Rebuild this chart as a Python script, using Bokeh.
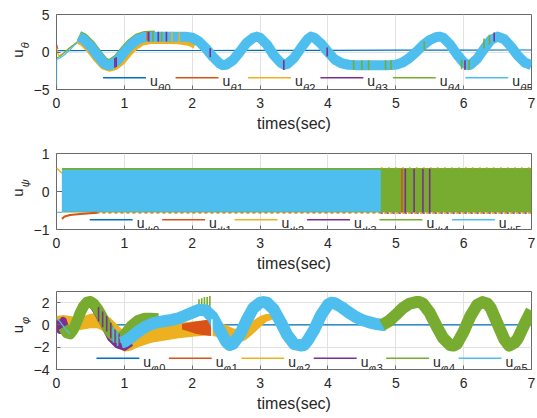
import numpy as np
from bokeh.plotting import figure
from bokeh.models import Label, FixedTicker, Range1d, ColumnDataSource, Div
from bokeh.layouts import column, row
from bokeh.embed import file_html
from bokeh.resources import INLINE

# ---------------- data ----------------
time_ticks = [0, 1, 2, 3, 4, 5, 6, 7]
theta_ticks = [-5, 0, 5]
psi_ticks = [-1, 0, 1]
phi_ticks = [-4, -2, 0, 2]
series_idx = ["0", "1", "2", "3", "4", "5"]

# ---- subplot 1 : u_theta ----
th0_t = [0, 1, 2, 3, 4, 5, 6, 7]
th0_y = [0.18, 0.2, 0.2, 0.21, 0.22, 0.24, 0.26, 0.27]
th1_t = [0.0, 0.02]
th1_y = [1.0, 0.4]
th2_pre_t = [0.0, 0.03, 0.1, 0.2, 0.33]
th2_pre_y = [0.6, -0.5, -0.2, 0.6, 1.4]
th4_pre_t = [0.0, 0.05, 0.1, 0.15, 0.2, 0.25, 0.3, 0.33]
th4_pre_y = [-0.8, -0.6, -0.2, 0.2, 0.6, 0.95, 1.3, 1.5]
th5_pre_t = [0.0, 0.002, 0.05, 0.1, 0.15, 0.2, 0.25, 0.3, 0.33]
th5_pre_y = [-4.8, -1.0, -0.8, -0.5, -0.1, 0.3, 0.8, 1.2, 1.45]
th2_t = [0.33, 0.4, 0.5, 0.6, 0.7, 0.78, 0.85, 0.95, 1.05, 1.15, 1.25, 1.4, 1.6, 1.8, 1.95, 2.05]
th2_y = [1.75, 1.4, 0.5, -0.7, -1.7, -1.95, -1.8, -1.1, 0.0, 0.9, 1.5, 1.75, 1.75, 1.7, 1.5, 1.1]
th4_t = [0.33, 0.4, 0.5, 0.6, 0.7, 0.76, 0.8, 0.9, 1.0, 1.1, 1.2, 1.3, 1.45]
th4_y = [2.15, 1.85, 0.95, -0.25, -1.35, -1.6, -1.55, -0.95, 0.15, 1.15, 1.85, 2.15, 2.2]
th5_t = [0.33, 0.4, 0.5, 0.6, 0.7, 0.76, 0.8, 0.9, 1.0, 1.1, 1.2, 1.3, 1.4, 1.5, 1.6, 1.7, 1.8, 1.9,
         2.0, 2.1, 2.2, 2.3, 2.4, 2.45, 2.5, 2.6, 2.7, 2.8, 2.9, 2.95, 3.0, 3.1, 3.2, 3.3, 3.36, 3.4,
         3.5, 3.6, 3.7, 3.75, 3.8, 3.9, 4.0, 4.1, 4.2, 4.3, 4.4, 4.5, 4.6, 4.7, 4.8, 4.9, 5.0, 5.1,
         5.2, 5.3, 5.4, 5.5, 5.6, 5.65, 5.7, 5.8, 5.9, 6.0, 6.07, 6.1, 6.2, 6.3, 6.4, 6.5, 6.6, 6.7,
         6.8, 6.9, 7.0]
th5_y = [2.0, 1.7, 0.8, -0.4, -1.5, -1.75, -1.7, -1.1, 0.0, 1.0, 1.7, 2.0, 2.05, 2.05, 2.05, 2.05, 2.05, 2.05,
         1.9, 1.4, 0.5, -0.6, -1.5, -1.75, -1.7, -1.1, 0.0, 1.2, 1.9, 2.05, 1.9, 1.0, -0.4, -1.4, -1.7, -1.6,
         -0.8, 0.5, 1.7, 2.05, 1.9, 1.1, 0.0, -1.0, -1.5, -1.7, -1.75, -1.75, -1.75, -1.75, -1.75, -1.75, -1.7, -1.4,
         -0.8, 0.0, 0.9, 1.6, 2.0, 2.05, 1.9, 1.0, -0.3, -1.4, -1.75, -1.7, -0.9, 0.4, 1.6, 2.05, 1.7, 0.7,
         -0.5, -1.4, -1.75]
# switching streaks: time, low, high, series index
th_st_t = [0.86, 0.88, 1.34, 1.36, 1.42, 1.5, 1.55, 1.62, 1.7, 1.81, 2.265, 3.35, 3.99, 4.38, 4.5,
           4.6, 4.85, 4.93, 5.42, 5.97, 6.02, 6.08, 6.3, 6.38, 6.45]
th_st_lo = [-2.1, -2.0, 1.5, 1.4, 1.4, 1.4, 1.4, 1.4, 1.4, 1.3, -0.7, -2.4, -0.6, -2.4, -2.4,
            -2.4, -2.4, -2.4, 0.2, -2.3, -2.4, -2.4, 0.5, 1.0, 1.4]
th_st_hi = [-0.8, -0.7, 2.7, 2.7, 2.7, 2.7, 2.7, 2.7, 2.7, 2.6, 0.5, -1.1, 0.6, -1.1, -1.1,
            -1.1, -1.1, -1.1, 1.4, -1.0, -1.1, -1.1, 1.8, 2.3, 2.6]
th_st_s = [3, 3, 1, 3, 4, 3, 4, 3, 2, 2, 3, 3, 3, 4, 4, 4, 4, 4, 4, 4, 3, 4, 4, 4, 3]

# ---- subplot 2 : u_psi ----
psi0_t = [0, 7]
psi0_y = [0, 0]
psi1_t = [0.08, 0.12, 0.2, 0.35, 0.5, 0.6]
psi1_y = [-0.72, -0.66, -0.62, -0.59, -0.57, -0.56]
psi2_t = [0.0, 0.04, 0.08]
psi2_y = [0.62, 0.55, 0.48]
psi4_t = [0.08, 7.0]
psi4_lo = [-0.55, -0.55]
psi4_hi = [0.62, 0.62]
psi5_pre_t = [0.0, 0.08]
psi5_pre_y = [-0.55, -0.55]
psi5_t = [0.08, 4.78]
psi5_lo = [-0.53, -0.53]
psi5_hi = [0.575, 0.575]
psi_st_t = [5.09, 5.14, 5.27, 5.4, 5.5]
psi_st_s = [1, 3, 3, 3, 3]
psi_edge1_t = [0.5, 7.0]
psi_edge1_y = [-0.565, -0.565]
psi_edge_t = [4.78, 7.0]
psi_edge_lo = [-0.57, -0.57]
psi_edge_hi = [0.625, 0.625]

# ---- subplot 3 : u_phi ----
phi0_t = [0, 7]
phi0_y = [0, 0]
phi1_t = [0.0, 0.03, 0.06, 0.09, 0.12, 0.15]
phi1_y = [0.2, 0.6, -0.5, 0.5, -0.6, 0.0]
phi1b_t = [1.85, 1.95, 2.05, 2.15, 2.28]
phi1b_lo = [-0.4, -0.6, -0.8, -0.9, -1.0]
phi1b_hi = [0.1, 0.2, 0.3, 0.4, 0.5]
phi2_t = [0.0, 0.1, 0.2, 0.3, 0.4, 0.5, 0.6, 0.7, 0.8, 0.9, 1.0, 1.1, 1.2, 1.4, 1.6, 1.8, 2.0, 2.2,
          2.3, 2.4, 2.5, 2.6, 2.7, 2.8, 2.9, 3.0, 3.1, 3.2]
phi2_hi = [0.8, 0.9, 0.8, 0.7, 0.8, 1.0, 1.1, 1.0, 0.6, 0.0, -0.6, -0.5, -0.3, 0.0, 0.1, 0.2, 0.3, 0.4,
           0.4, 0.2, 0.0, -0.3, -0.4, -0.1, 0.4, 0.8, 1.0, 0.9]
phi2_lo = [-0.6, -0.7, -0.6, -0.5, -0.4, -0.3, -0.3, -0.6, -1.3, -2.0, -2.4, -2.3, -2.0, -1.6, -1.4, -1.2, -1.05, -0.95,
           -1.0, -1.1, -1.3, -1.6, -1.6, -1.3, -0.8, -0.2, 0.3, 0.5]
phi3_t = [0.0, 0.05, 0.1, 0.15, 0.2, 0.25, 0.3, 0.35, 0.4, 0.45, 0.5, 0.55, 0.6, 0.7, 0.8, 0.9, 1.0, 1.1]
phi3_y = [0.4, -0.5, 0.4, -0.6, -0.9, -0.5, 0.2, 1.0, 1.6, 1.9, 1.9, 1.6, 1.1, 0.0, -1.2, -1.8, -2.0, -1.6]
phi4a_t = [0.1, 0.15, 0.2, 0.25, 0.3, 0.35, 0.4, 0.45, 0.5, 0.55, 0.6, 0.65, 0.7, 0.75, 0.8, 0.85,
           0.9, 0.95, 1.0, 1.05, 1.1, 1.2, 1.3, 1.4, 1.5]
phi4a_y = [-0.2, -0.7, -0.8, -0.4, 0.3, 1.1, 1.7, 2.05, 2.1, 1.9, 1.5, 1.0, 0.4, -0.2, -0.7, -1.0,
           -1.15, -1.1, -0.9, -0.5, -0.1, 0.4, 0.6, 0.6, 0.55]
phi4b_t = [4.8, 4.9, 5.0, 5.1, 5.2, 5.3, 5.35, 5.4, 5.5, 5.6, 5.7, 5.8, 5.85, 5.9, 6.0, 6.1, 6.2, 6.28,
           6.35, 6.4, 6.5, 6.6, 6.67, 6.75, 6.8, 6.9, 7.0]
phi4b_y = [0.0, 0.35, 0.9, 1.5, 1.9, 2.05, 2.05, 1.9, 1.1, -0.1, -1.2, -1.8, -1.85, -1.7, -0.6, 0.8, 1.8, 2.05,
           1.9, 1.5, 0.1, -1.3, -1.85, -1.6, -1.2, 0.1, 1.3]
phi5_pre_t = [0.0, 0.05, 0.1, 0.15, 0.2]
phi5_pre_y = [0.6, 0.3, -0.1, -0.5, -0.8]
phi5_t = [0.95, 1.0, 1.1, 1.2, 1.3, 1.4, 1.5, 1.6, 1.7, 1.8, 1.9, 2.0, 2.1, 2.2, 2.3, 2.4, 2.5, 2.55, 2.6,
          2.7, 2.8, 2.9, 3.0, 3.05, 3.1, 3.2, 3.3, 3.4, 3.5, 3.6, 3.65, 3.7, 3.8, 3.9, 4.0, 4.05, 4.1, 4.2,
          4.3, 4.4, 4.5, 4.6, 4.7, 4.8, 4.85]
phi5_y = [-1.6, -1.5, -1.1, -0.6, -0.2, 0.1, 0.25, 0.35, 0.45, 0.6, 0.85, 1.1, 1.35, 1.3, 0.7, -0.4, -1.5, -1.8, -1.7,
          -0.9, 0.4, 1.5, 2.0, 2.05, 2.0, 1.4, 0.3, -0.9, -1.7, -1.85, -1.8, -1.4, -0.4, 0.9, 1.8, 2.0, 1.95, 1.6,
          1.15, 0.75, 0.45, 0.25, 0.1, 0.0, 0.0]
phi_st_t = [0.62, 0.68, 0.74, 0.8, 0.86, 0.92, 0.98, 1.04, 0.84, 0.9, 2.1, 2.14, 2.18, 2.22, 2.26]
phi_st_lo = [0.3, -0.2, -0.6, -1.2, -1.8, -2.0, -2.1, -2.0, -1.6, -1.9, 1.6, 1.6, 1.5, 1.4, 1.3]
phi_st_hi = [1.6, 1.2, 0.8, 0.2, -0.4, -0.8, -1.0, -0.9, -0.2, -0.5, 2.3, 2.4, 2.5, 2.5, 2.6]
phi_st_s = [3, 3, 3, 3, 3, 3, 3, 3, 5, 5, 4, 4, 4, 4, 4]
phi_gap_t = [2.29]
phi_gap_lo = [-1.0]
phi_gap_hi = [0.5]

# ---------------- styling ----------------
COLORS = ["#0072BD", "#D95319", "#EDB120", "#7E2F8E", "#77AC30", "#4DBEEE"]
FONT = "Liberation Sans"
TXT = "#262626"
BOX = "#6a6a6a"
DIVW = 30                 # width of the y-label strip
FL, FR = 55, 531          # frame left/right in page px
FRAME_BOTTOM = 89         # local px


def make_fig(height, top, ymin, ymax, yticks):
    p = figure(width=537 - DIVW, height=height, x_range=Range1d(0, 7), y_range=Range1d(ymin, ymax),
               output_backend="svg", toolbar_location=None,
               min_border_left=FL - DIVW, min_border_right=537 - FR,
               min_border_top=top, min_border_bottom=height - FRAME_BOTTOM)
    p.outline_line_color = BOX
    p.outline_line_width = 1
    p.background_fill_color = "white"
    p.border_fill_color = "white"
    xb = p.below[0]
    yl = p.left[0]
    xb.ticker = FixedTicker(ticks=time_ticks)
    yl.ticker = FixedTicker(ticks=yticks)
    for ax in (xb, yl):
        ax.axis_line_color = None
        ax.major_tick_line_color = BOX
        ax.major_tick_in = 4
        ax.major_tick_out = 0
        ax.minor_tick_line_color = None
        ax.major_label_text_font = FONT
        ax.major_label_text_font_size = "14px"
        ax.major_label_text_color = TXT
    xb.major_label_standoff = 8
    yl.major_label_standoff = 7
    xb.axis_label = "times(sec)"
    xb.axis_label_text_font = FONT
    xb.axis_label_text_font_size = "16px"
    xb.axis_label_text_font_style = "normal"
    xb.axis_label_text_color = TXT
    xb.axis_label_standoff = 4
    p.xgrid.ticker = FixedTicker(ticks=time_ticks)
    p.ygrid.ticker = FixedTicker(ticks=yticks)
    p.xgrid.grid_line_color = "#e2e2e2"
    p.ygrid.grid_line_color = "#e2e2e2"
    return p


def conv(top, ymin, ymax):
    fh = FRAME_BOTTOM - top
    fx = lambda px: (px - FL) / (FR - FL) * 7.0
    fy = lambda py: ymax - (py - top) / fh * (ymax - ymin)
    return fx, fy


def ylabel_div(height, greek, cx, cy):
    html = (
        f'<div style="position:relative;width:{DIVW}px;height:{height}px;">'
        f'<div style="position:absolute;left:{cx}px;top:{cy}px;'
        f'transform:translate(-50%,-50%) rotate(-90deg);white-space:nowrap;'
        f'font-family:\'Liberation Sans\';font-size:15px;line-height:1;color:{TXT};">'
        f'u<span style="position:relative;top:6px;font-size:11px;font-style:italic;margin-left:1px;">{greek}</span>'
        f'</div></div>'
    )
    return Div(text=html, width=DIVW, height=height, margin=(0, 0, 0, 0))


def add_legend(p, top, ymin, ymax, greek, gw, start_px, line_py):
    fx, fy = conv(top, ymin, ymax)
    for i, name in enumerate(series_idx):
        s = start_px + i * 72.6
        p.line([fx(s), fx(s + 43)], [fy(line_py), fy(line_py)], color=COLORS[i], line_width=1.4)
        p.add_layout(Label(x=fx(s + 47), y=fy(line_py + 3.4), text="u", text_font=FONT,
                           text_font_size="14px", text_color=TXT, text_align="left",
                           text_baseline="alphabetic"))
        p.add_layout(Label(x=fx(s + 55), y=fy(line_py + 10), text=greek, text_font=FONT,
                           text_font_size="11px", text_font_style="italic", text_color=TXT,
                           text_align="left", text_baseline="alphabetic"))
        p.add_layout(Label(x=fx(s + 55 + gw), y=fy(line_py + 10), text=name, text_font=FONT,
                           text_font_size="11px", text_color=TXT, text_align="left",
                           text_baseline="alphabetic"))


def streaks(p, t, lo, hi, s, width=2):
    src = ColumnDataSource(dict(t=t, lo=lo, hi=hi, c=[COLORS[k] for k in s]))
    p.segment(x0="t", y0="lo", x1="t", y1="hi", color="c", line_width=width, source=src)


# ---------------- subplot 1 ----------------
T1 = 14
p1 = make_fig(140, T1, -5, 5, theta_ticks)
p1.line(th0_t, th0_y, color=COLORS[0], line_width=1.2)
p1.line(th1_t, th1_y, color=COLORS[1], line_width=1.2)
p1.line(th2_pre_t, th2_pre_y, color=COLORS[2], line_width=1.2)
p1.line(th4_pre_t, th4_pre_y, color=COLORS[4], line_width=1.2)
p1.line(th5_pre_t, th5_pre_y, color=COLORS[5], line_width=1.2)
p1.line(th2_t, th2_y, color=COLORS[2], line_width=10, line_join="round")
p1.line(th4_t, th4_y, color=COLORS[4], line_width=10, line_join="round")
p1.line(th5_t, th5_y, color=COLORS[5], line_width=10, line_join="round")
streaks(p1, th_st_t, th_st_lo, th_st_hi, th_st_s, 1.6)
add_legend(p1, T1, -5, 5, "θ", 6.5, 101.7, 77.3)
d1 = ylabel_div(140, "θ", 16.5, 50)

# ---------------- subplot 2 ----------------
T2 = 13
p2 = make_fig(140, T2, -1, 1, psi_ticks)
p2.line(psi0_t, psi0_y, color=COLORS[0], line_width=1.2)
p2.line(psi5_pre_t, psi5_pre_y, color=COLORS[5], line_width=1.2)
p2.line(psi2_t, psi2_y, color=COLORS[2], line_width=1.4)
p2.line(psi_edge1_t, psi_edge1_y, color=COLORS[1], line_width=1.2, line_dash="3 3")
p2.varea(x=psi4_t, y1=psi4_lo, y2=psi4_hi, fill_color=COLORS[4])
p2.line(psi1_t, psi1_y, color=COLORS[1], line_width=2)
p2.varea(x=psi5_t, y1=psi5_lo, y2=psi5_hi, fill_color=COLORS[5])
p2.segment(x0=psi_st_t, y0=[-0.55] * len(psi_st_t), x1=psi_st_t, y1=[0.6] * len(psi_st_t),
           color=[COLORS[k] for k in psi_st_s], line_width=1.6)
p2.line(psi_edge_t, psi_edge_lo, color=COLORS[3], line_width=1.4, line_dash="2 4")
p2.line(psi_edge_t, psi_edge_lo, color=COLORS[2], line_width=1.4, line_dash="2 4", line_dash_offset=3)
p2.line(psi_edge_t, psi_edge_hi, color=COLORS[2], line_width=1.2, line_dash="2 5")
add_legend(p2, T2, -1, 1, "ψ", 8.5, 88.3, 79.3)
d2 = ylabel_div(140, "ψ", 17, 48)

# ---------------- subplot 3 ----------------
T3 = 11
p3 = make_fig(138, T3, -4, 3, phi_ticks)
p3.line(phi0_t, phi0_y, color=COLORS[0], line_width=1.2)
p3.line(phi1_t, phi1_y, color=COLORS[1], line_width=1.4)
p3.varea(x=phi2_t, y1=phi2_lo, y2=phi2_hi, fill_color=COLORS[2])
p3.varea(x=phi1b_t, y1=phi1b_lo, y2=phi1b_hi, fill_color=COLORS[1])
p3.line(phi3_t, phi3_y, color=COLORS[3], line_width=7, line_join="round")
p3.line(phi4a_t, phi4a_y, color=COLORS[4], line_width=11, line_join="round")
p3.line(phi5_pre_t, phi5_pre_y, color=COLORS[5], line_width=1.2)
streaks(p3, phi_st_t, phi_st_lo, phi_st_hi, phi_st_s, 1.6)
p3.line(phi5_t, phi5_y, color=COLORS[5], line_width=12, line_join="round")
p3.line(phi4b_t, phi4b_y, color=COLORS[4], line_width=12, line_join="round")
p3.segment(x0=phi_gap_t, y0=phi_gap_lo, x1=phi_gap_t, y1=phi_gap_hi, color="white", line_width=1.5)
add_legend(p3, T3, -4, 3, "φ", 8, 95.0, 77.7)
d3 = ylabel_div(138, "φ", 16.5, 45)

layout = column(row(d1, p1, spacing=0), row(d2, p2, spacing=0), row(d3, p3, spacing=0), spacing=0)
open("out.html", "w").write(file_html(layout, INLINE))
